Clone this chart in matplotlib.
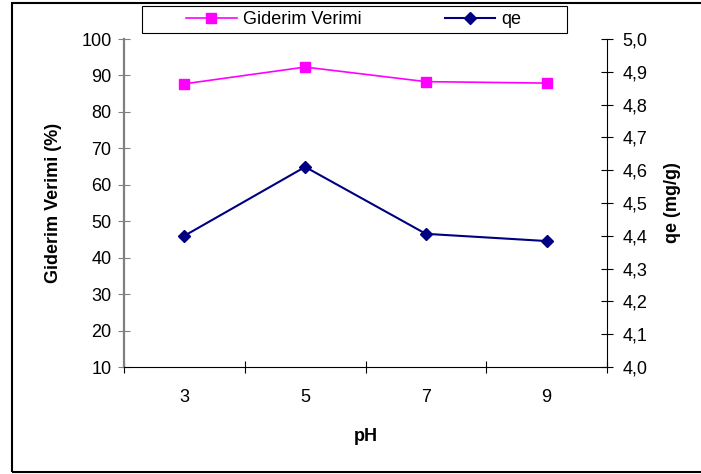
import matplotlib
matplotlib.use('Agg')
import matplotlib.pyplot as plt
from matplotlib.patches import Rectangle
from matplotlib.ticker import FixedLocator

plt.rcParams['font.family'] = ['Liberation Sans', 'DejaVu Sans']

ph = ['3', '5', '7', '9']
giderim = [87.7, 92.3, 88.3, 87.9]
qe = [4.40, 4.61, 4.406, 4.384]

fig = plt.figure(figsize=(7.01, 4.74), dpi=100)
ax = fig.add_axes([124/701, 1-367/474, (607-124)/701, (367-39)/474])
ax2 = ax.twinx()

x = list(range(len(ph)))
l1, = ax.plot(x, giderim, color='#FF00FF', marker='s', markersize=7.5, lw=1.2,
              label='Giderim Verimi')
l2, = ax2.plot(x, qe, color='#000080', marker='D', markersize=6.5, lw=1.5,
               label='qe')

ax.set_xlim(-0.5, len(ph) - 0.5)
ax.set_ylim(10, 100)
ax.set_yticks(range(10, 101, 10))
ax2.set_ylim(4.0, 5.0)
ax2.set_yticks([4.0 + i/10 for i in range(11)])
ax2.set_yticklabels([('%.1f' % (4.0 + i/10)).replace('.', ',') for i in range(11)])

# category axis: tick marks between categories, labels at centres
ax.xaxis.set_major_locator(FixedLocator([i - 0.5 for i in range(len(ph) + 1)]))
ax.xaxis.set_minor_locator(FixedLocator(x))
ax.set_xticklabels([])
ax.set_xticklabels(ph, minor=True)
ax.tick_params(axis='x', which='major', direction='inout', length=8, width=0.8)
ax.tick_params(axis='x', which='minor', length=0, pad=16, labelsize=13)
ax.tick_params(axis='y', direction='inout', length=8, width=0.8, labelsize=13,
               color='#808080', pad=5)
ax2.tick_params(axis='y', direction='inout', length=8, width=0.8, labelsize=13,
                pad=7)

for s in ['top', 'right']:
    ax.spines[s].set_visible(False)
for s in ['top', 'left', 'bottom']:
    ax2.spines[s].set_visible(False)
ax.spines['left'].set_color('#808080')
ax.spines['left'].set_linewidth(1.6)
ax.spines['bottom'].set_linewidth(0.8)
ax2.spines['right'].set_linewidth(0.8)

ax.set_xlabel('pH', fontsize=13, fontweight='bold', labelpad=16)
ax.set_ylabel('Giderim Verimi (%)', fontsize=13, fontweight='bold', labelpad=14)
ax2.set_ylabel('qe (mg/g)', fontsize=13, fontweight='bold', labelpad=12)

leg = fig.legend(handles=[l1, l2], loc='center left', ncol=2, frameon=False,
                 bbox_to_anchor=(186/701, 1-20/474), fontsize=13,
                 handlelength=2.8, handletextpad=0.35, columnspacing=4.6,
                 borderaxespad=0, borderpad=0)

# legend box
fig.patches.append(Rectangle((142/701, 1-33/474), 425/701, 27/474,
                             transform=fig.transFigure, fill=False,
                             edgecolor='black', lw=0.8))
# outer chart frame
fig.patches.append(Rectangle((12/701, 1-472/474), 1.0, (472-3)/474,
                             transform=fig.transFigure, fill=False,
                             edgecolor='black', lw=1.5))

fig.savefig('out.png', dpi=100)
